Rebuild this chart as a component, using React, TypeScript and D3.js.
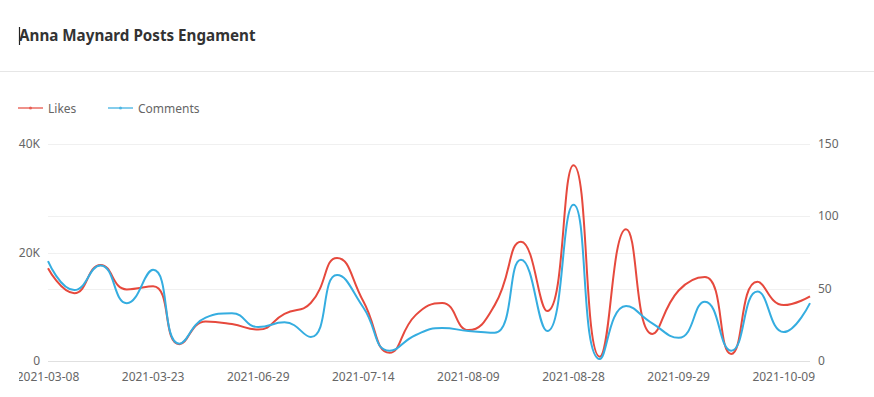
import { useEffect, useRef } from 'react';
import * as d3 from 'd3';

const dates = [
  '2021-03-08', '2021-03-12', '2021-03-16', '2021-03-19', '2021-03-23',
  '2021-04-02', '2021-05-10', '2021-06-14', '2021-06-29', '2021-07-02',
  '2021-07-06', '2021-07-10', '2021-07-14', '2021-07-19', '2021-07-25',
  '2021-08-02', '2021-08-09', '2021-08-13', '2021-08-18', '2021-08-23',
  '2021-08-28', '2021-09-03', '2021-09-10', '2021-09-20', '2021-09-29',
  '2021-10-01', '2021-10-04', '2021-10-06', '2021-10-09', '2021-10-12',
];
const likes = [
  17100, 12500, 17700, 13200, 13800, 3100, 7300, 6800, 5800, 8700,
  10700, 19000, 11000, 1500, 8500, 10700, 5700, 10300, 22000, 9200,
  36100, 800, 24300, 5000, 13000, 15500, 1300, 14600, 10300, 11900,
];
const comments = [
  69, 49, 66, 40, 63, 12, 30, 33, 23.5, 26.7,
  16.6, 59.4, 37, 7.1, 18, 22.8, 20.7, 19.5, 70, 20.7,
  108, 1.4, 38, 26, 16, 41, 7.1, 48, 20, 40,
];
const leftTicks = [0, 20000, 40000];
const rightTicks = [0, 50, 100, 150];

const RED = '#e6493d';
const BLUE = '#35ade0';
const FONT = '"Noto Sans", "Open Sans", sans-serif';

// echarts-like smooth line (smooth = 0.5)
function smoothPath(pts: [number, number][], smooth = 0.5) {
  const p = d3.path();
  let cpx0 = 0, cpy0 = 0;
  for (let i = 0; i < pts.length; i++) {
    const [x, y] = pts[i];
    if (i === 0) {
      p.moveTo(x, y);
      cpx0 = x; cpy0 = y;
      continue;
    }
    const [prevX, prevY] = pts[i - 1];
    let cpx1 = x, cpy1 = y, nx0 = x, ny0 = y;
    if (i < pts.length - 1) {
      const [nextX, nextY] = pts[i + 1];
      let vx = nextX - prevX, vy = nextY - prevY;
      const lp = Math.hypot(x - prevX, y - prevY);
      const ln = Math.hypot(nextX - x, nextY - y);
      const r = ln / (ln + lp);
      nx0 = x + vx * smooth * r;
      ny0 = y + vy * smooth * r;
      nx0 = Math.max(Math.min(nx0, Math.max(nextX, x)), Math.min(nextX, x));
      ny0 = Math.max(Math.min(ny0, Math.max(nextY, y)), Math.min(nextY, y));
      vx = nx0 - x; vy = ny0 - y;
      cpx1 = x - vx * lp / ln;
      cpy1 = y - vy * lp / ln;
      cpx1 = Math.max(Math.min(cpx1, Math.max(prevX, x)), Math.min(prevX, x));
      cpy1 = Math.max(Math.min(cpy1, Math.max(prevY, y)), Math.min(prevY, y));
      vx = x - cpx1; vy = y - cpy1;
      nx0 = x + vx * ln / lp;
      ny0 = y + vy * ln / lp;
    }
    p.bezierCurveTo(cpx0, cpy0, cpx1, cpy1, x, y);
    cpx0 = nx0; cpy0 = ny0;
  }
  return p.toString();
}

export default function App() {
  const svgRef = useRef<SVGSVGElement>(null);

  useEffect(() => {
    const svg = d3.select(svgRef.current);
    svg.selectAll('*').remove();

    const x = d3.scalePoint().domain(dates).range([48, 810]);
    const yL = d3.scaleLinear().domain([0, 40000]).range([361, 144]);
    const yR = d3.scaleLinear().domain([0, 150]).range([361, 144]);

    svg.append('defs').append('clipPath').attr('id', 'xclip')
      .append('rect').attr('x', 19).attr('y', 362).attr('width', 855).attr('height', 35);

    // title
    svg.append('line')
      .attr('x1', 19.5).attr('x2', 19.5).attr('y1', 27).attr('y2', 45)
      .attr('stroke', '#222').attr('stroke-width', 1.2);
    svg.append('text')
      .attr('x', 19).attr('y', 41)
      .attr('font-family', FONT).attr('font-size', 15.2).attr('font-weight', 700)
      .attr('fill', '#333')
      .text('Anna Maynard Posts Engament');
    svg.append('line')
      .attr('x1', 0).attr('x2', 874).attr('y1', 71.5).attr('y2', 71.5)
      .attr('stroke', '#e6e6e6');

    // legend
    const legend = [
      { name: 'Likes', color: RED, x: 18 },
      { name: 'Comments', color: BLUE, x: 108 },
    ];
    legend.forEach((l) => {
      const g = svg.append('g').attr('transform', `translate(${l.x},108)`);
      g.append('line').attr('x1', 0).attr('x2', 25).attr('stroke', l.color)
        .attr('stroke-width', 2).attr('opacity', 0.6);
      g.append('circle').attr('cx', 12.5).attr('r', 1.5).attr('fill', l.color).attr('opacity', 0.7);
      g.append('text').attr('x', 30).attr('y', 4.5)
        .attr('font-family', FONT).attr('font-size', 12).attr('fill', '#666')
        .text(l.name);
    });

    // grid
    const gridYs = Array.from(new Set([...leftTicks.map(yL), ...rightTicks.map(yR)]));
    svg.append('g').selectAll('line').data(gridYs).join('line')
      .attr('x1', 48).attr('x2', 810)
      .attr('y1', (d) => Math.round(d) + 0.5).attr('y2', (d) => Math.round(d) + 0.5)
      .attr('stroke', (d) => (d > 360 ? '#e0e0e0' : '#f0f0f0'));

    // left axis
    svg.append('g').selectAll('text').data(leftTicks).join('text')
      .attr('x', 40).attr('y', (d) => yL(d) + 4)
      .attr('text-anchor', 'end')
      .attr('font-family', FONT).attr('font-size', 12).attr('fill', '#666')
      .text((d) => (d === 0 ? '0' : `${d / 1000}K`));

    // right axis
    svg.append('g').selectAll('text').data(rightTicks).join('text')
      .attr('x', 818).attr('y', (d) => yR(d) + 4)
      .attr('font-family', FONT).attr('font-size', 12).attr('fill', '#666')
      .text((d) => `${d}`);

    // x axis labels
    const shown = dates.filter((_, i) => i % 4 === 0);
    svg.append('g').attr('clip-path', 'url(#xclip)')
      .selectAll('text').data(shown).join('text')
      .attr('x', (d) => x(d)!).attr('y', 381)
      .attr('text-anchor', 'middle')
      .attr('font-family', FONT).attr('font-size', 12).attr('fill', '#666')
      .text((d) => d);

    // lines
    const likePts = dates.map((d, i) => [x(d)!, yL(likes[i])] as [number, number]);
    const commentPts = dates.map((d, i) => [x(d)!, yR(comments[i])] as [number, number]);
    svg.append('path').attr('d', smoothPath(likePts))
      .attr('fill', 'none').attr('stroke', RED).attr('stroke-width', 2);
    svg.append('path').attr('d', smoothPath(commentPts))
      .attr('fill', 'none').attr('stroke', BLUE).attr('stroke-width', 2);
  }, []);

  return (
    <svg
      ref={svgRef}
      width={874}
      height={397}
      style={{ position: 'absolute', left: 0, top: 0, background: '#fff' }}
    />
  );
}
